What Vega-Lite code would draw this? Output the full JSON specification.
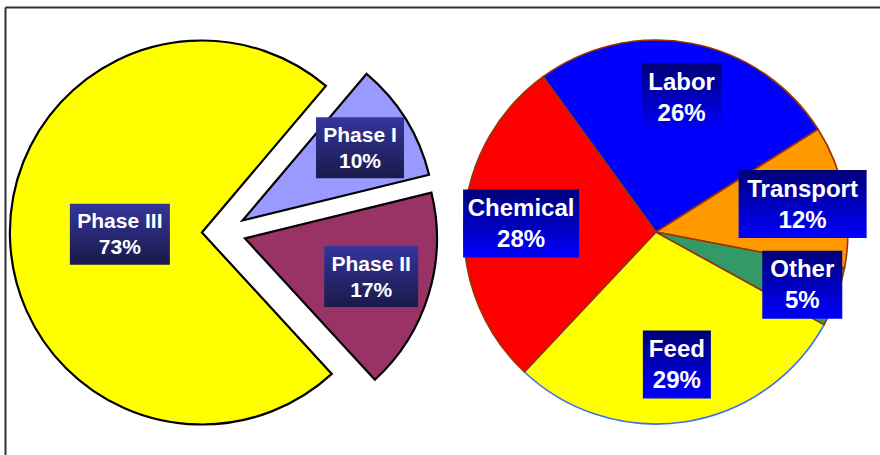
{
  "$schema": "https://vega.github.io/schema/vega-lite/v6.json",
  "width": 880,
  "height": 455,
  "autosize": {"type": "fit", "contains": "padding"},
  "padding": {"left": 5, "top": 7, "right": 0, "bottom": 0},
  "background": "white",
  "config": {
    "view": {"stroke": null},
    "axis": {"labels": false, "ticks": false, "grid": false, "domainColor": "#333333", "domainWidth": 2}
  },
  "data": {
    "values": [
      {"pie": "A", "cat": "Phase I", "value": 10, "i": 1},
      {"pie": "A", "cat": "Phase II", "value": 17, "i": 2},
      {"pie": "A", "cat": "Phase III", "value": 73, "i": 3},
      {"pie": "B", "cat": "Labor", "value": 26, "i": 1},
      {"pie": "B", "cat": "Transport", "value": 12, "i": 2},
      {"pie": "B", "cat": "Other", "value": 5, "i": 3},
      {"pie": "B", "cat": "Feed", "value": 29, "i": 4},
      {"pie": "B", "cat": "Chemical", "value": 28, "i": 5}
    ]
  },
  "transform": [
    {"stack": "value", "groupby": ["pie"], "sort": [{"field": "i", "order": "ascending"}], "as": ["v0", "v1"]},
    {"calculate": "datum.pie == 'A' ? 0.702 : -0.628", "as": "rot"},
    {"calculate": "datum.v0 / 100 * 2 * PI + datum.rot", "as": "a0"},
    {"calculate": "datum.v1 / 100 * 2 * PI + datum.rot", "as": "a1"},
    {"calculate": "(datum.a0 + datum.a1) / 2", "as": "mid"},
    {"calculate": "datum.pie == 'A' ? 0 : 2.25", "as": "cx"},
    {"calculate": "datum.pie == 'A' ? 22 / 192 : 0", "as": "ex"},
    {"calculate": "datum.cx + sin(datum.mid) * datum.ex", "as": "px"},
    {"calculate": "cos(datum.mid) * datum.ex", "as": "py"},
    {"calculate": "((datum.pie == 'A' ? 169 : 160) - 0.89 * datum.value) / 192", "as": "lr"},
    {"calculate": "datum.cx + sin(datum.mid) * datum.lr", "as": "lx"},
    {"calculate": "cos(datum.mid) * datum.lr", "as": "ly"},
    {"calculate": "(datum.pie == 'A' ? 46 + 6 * length(datum.cat) : 20 + 12 * length(datum.cat)) / 384", "as": "hw"},
    {"calculate": "(datum.pie == 'A' ? 61 : 68) / 384", "as": "hh"},
    {"calculate": "datum.lx - datum.hw", "as": "bx0"},
    {"calculate": "datum.lx + datum.hw", "as": "bx1"},
    {"calculate": "datum.ly - datum.hh", "as": "by0"},
    {"calculate": "datum.ly + datum.hh", "as": "by1"},
    {"calculate": "[datum.cat, datum.value + '%']", "as": "lines"},
    {"calculate": "datum.cat == 'Feed' ? 0 : 1", "as": "z"}
  ],
  "layer": [
    {
      "mark": {"type": "arc", "radius": 192, "strokeJoin": "miter"},
      "encoding": {
        "x": {"field": "px", "type": "quantitative", "title": null, "scale": {"domain": [-1.14, 3.417], "nice": false, "zero": false}, "axis": {"orient": "top"}},
        "y": {"field": "py", "type": "quantitative", "title": null, "scale": {"domain": [-1.161, 1.172], "nice": false, "zero": false}, "axis": {"orient": "left"}},
        "theta": {"field": "a0", "type": "quantitative", "scale": null},
        "theta2": {"field": "a1"},
        "fill": {
          "field": "cat", "type": "nominal", "legend": null,
          "scale": {
            "domain": ["Phase I", "Phase II", "Phase III", "Labor", "Transport", "Other", "Feed", "Chemical"],
            "range": ["#9999FF", "#993366", "#FFFF00", "#0000FF", "#FF9900", "#339966", "#FFFF00", "#FF0000"]
          }
        },
        "stroke": {
          "condition": [
            {"test": "datum.pie == 'A'", "value": "#000000"},
            {"test": "datum.cat == 'Feed'", "value": "#3a6ef5"}
          ],
          "value": "#993300"
        },
        "strokeWidth": {"condition": {"test": "datum.pie == 'A'", "value": 2.2}, "value": 1.6},
        "order": {"field": "z", "type": "quantitative"}
      }
    },
    {
      "transform": [{"filter": "datum.pie == 'A'"}],
      "mark": {
        "type": "rect",
        "fill": {"gradient": "linear", "x1": 0, "y1": 0, "x2": 0, "y2": 1,
          "stops": [{"offset": 0, "color": "#35359c"}, {"offset": 1, "color": "#1a1a4a"}]}
      },
      "encoding": {
        "x": {"field": "bx0", "type": "quantitative", "title": null, "scale": {"domain": [-1.14, 3.417], "nice": false, "zero": false}, "axis": {"orient": "top"}},
        "x2": {"field": "bx1"},
        "y": {"field": "by0", "type": "quantitative", "title": null, "scale": {"domain": [-1.161, 1.172], "nice": false, "zero": false}, "axis": {"orient": "left"}},
        "y2": {"field": "by1"}
      }
    },
    {
      "transform": [{"filter": "datum.pie == 'B'"}],
      "mark": {
        "type": "rect",
        "fill": {"gradient": "linear", "x1": 0, "y1": 0, "x2": 0, "y2": 1,
          "stops": [{"offset": 0, "color": "#000078"}, {"offset": 1, "color": "#0000ff"}]}
      },
      "encoding": {
        "x": {"field": "bx0", "type": "quantitative", "title": null, "scale": {"domain": [-1.14, 3.417], "nice": false, "zero": false}, "axis": {"orient": "top"}},
        "x2": {"field": "bx1"},
        "y": {"field": "by0", "type": "quantitative", "title": null, "scale": {"domain": [-1.161, 1.172], "nice": false, "zero": false}, "axis": {"orient": "left"}},
        "y2": {"field": "by1"}
      }
    },
    {
      "transform": [{"filter": "datum.pie == 'A'"}],
      "mark": {"type": "text", "font": "Liberation Sans", "fontWeight": "bold", "fontSize": 21, "lineHeight": 26, "dy": -12, "color": "#ffffff", "align": "center", "baseline": "middle"},
      "encoding": {
        "x": {"field": "lx", "type": "quantitative", "title": null, "scale": {"domain": [-1.14, 3.417], "nice": false, "zero": false}, "axis": {"orient": "top"}},
        "y": {"field": "ly", "type": "quantitative", "title": null, "scale": {"domain": [-1.161, 1.172], "nice": false, "zero": false}, "axis": {"orient": "left"}},
        "text": {"field": "lines", "type": "nominal"}
      }
    },
    {
      "transform": [{"filter": "datum.pie == 'B'"}],
      "mark": {"type": "text", "font": "Liberation Sans", "fontWeight": "bold", "fontSize": 24, "lineHeight": 31, "dy": -14.5, "color": "#ffffff", "align": "center", "baseline": "middle"},
      "encoding": {
        "x": {"field": "lx", "type": "quantitative", "title": null, "scale": {"domain": [-1.14, 3.417], "nice": false, "zero": false}, "axis": {"orient": "top"}},
        "y": {"field": "ly", "type": "quantitative", "title": null, "scale": {"domain": [-1.161, 1.172], "nice": false, "zero": false}, "axis": {"orient": "left"}},
        "text": {"field": "lines", "type": "nominal"}
      }
    }
  ]
}
